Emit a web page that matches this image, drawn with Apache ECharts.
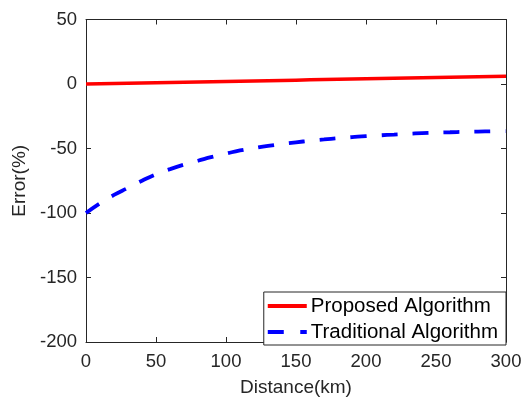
<!DOCTYPE html>
<html>
<head>
<meta charset="utf-8">
<script src="https://cdn.jsdelivr.net/npm/echarts@6/dist/echarts.min.js"></script>
<style>
  html, body { margin: 0; padding: 0; background: #fff; }
  #chart { width: 525px; height: 402px; }
</style>
</head>
<body>
<div id="chart"></div>
<script>
// distances read along the x axis (km)
var distance = [0, 10, 20, 30, 40, 50, 60, 70, 80, 90, 100, 110, 120, 130, 140, 150,
  160, 170, 180, 190, 200, 210, 220, 230, 240, 250, 260, 270, 280, 290, 300];
// error (%)
var proposed = [0, 0.2, 0.4, 0.6, 0.8, 1, 1.2, 1.4, 1.6, 1.8, 2, 2.2, 2.4, 2.6, 2.8, 3,
  3.2, 3.4, 3.6, 3.8, 4, 4.2, 4.4, 4.6, 4.8, 5, 5.2, 5.4, 5.6, 5.8, 6];
var traditional = [-100, -92.5, -86, -80.5, -75, -70, -66, -62.5, -59.5, -56.5, -54,
  -51.5, -49.7, -48, -46.5, -45.2, -44, -43, -42, -41.2, -40.4, -39.8, -39.2, -38.6,
  -38.1, -37.7, -37.4, -37.1, -36.9, -36.7, -36.6];
var seriesNames = ['Proposed Algorithm', 'Traditional Algorithm'];

function pairs(ys) {
  return distance.map(function (d, i) { return [d, ys[i]]; });
}

var axisColor = '#262626';
var font = 'Liberation Sans';

// legend samples: solid bar and "dash gap dash" bar, 39 x 4
var solidIcon = 'path://M0,0H39V4H0Z';
var dashIcon = 'path://M0,0H16V4H0Z M32.5,0H39V4H32.5Z';

// shared look for the four box sides
function side(extra) {
  var base = {
    type: 'value',
    axisLine: { show: true, onZero: false, lineStyle: { color: axisColor, width: 1 } },
    axisTick: { show: true, inside: true, length: 5, lineStyle: { color: axisColor, width: 1 } },
    axisLabel: { show: false },
    splitLine: { show: false }
  };
  return Object.assign(base, extra);
}

var chart = echarts.init(document.getElementById('chart'));

var option = {
  animation: false,
  grid: { left: 86, right: 19, top: 19.5, bottom: 57 },
  legend: {
    orient: 'vertical',
    right: 19,
    bottom: 57,
    padding: [3.5, 8, 2.5, 4],
    itemGap: 5,
    itemWidth: 39,
    itemHeight: 14,
    backgroundColor: '#fff',
    borderColor: axisColor,
    borderWidth: 1,
    borderRadius: 0,
    symbolKeepAspect: true,
    itemStyle: { borderWidth: 0 },
    textStyle: { fontFamily: font, fontSize: 20.5, color: '#000', padding: [0, 0, 0, -1] },
    data: [
      { name: seriesNames[0], icon: solidIcon },
      { name: seriesNames[1], icon: dashIcon }
    ]
  },
  xAxis: [
    side({
      min: 0, max: 300, interval: 50, position: 'bottom',
      name: 'Distance(km)', nameLocation: 'middle', nameGap: 36,
      nameTextStyle: { fontFamily: font, fontSize: 19, color: axisColor },
      axisLabel: { show: true, fontFamily: font, fontSize: 18.5, color: axisColor, margin: 10 }
    }),
    side({ min: 0, max: 300, interval: 50, position: 'top' })
  ],
  yAxis: [
    side({
      min: -200, max: 50, interval: 50, position: 'left',
      name: 'Error(%)', nameLocation: 'middle', nameGap: 56,
      nameTextStyle: { fontFamily: font, fontSize: 19, color: axisColor },
      axisLabel: { show: true, fontFamily: font, fontSize: 18.5, color: axisColor, margin: 9 }
    }),
    side({ min: -200, max: 50, interval: 50, position: 'right' })
  ],
  series: [
    {
      name: seriesNames[0],
      type: 'line',
      symbol: 'none',
      data: pairs(proposed),
      lineStyle: { color: '#ff0000', width: 3.5 },
      itemStyle: { color: '#ff0000' },
      z: 3
    },
    {
      name: seriesNames[1],
      type: 'line',
      symbol: 'none',
      smooth: true,
      data: pairs(traditional),
      lineStyle: { color: '#0000ff', width: 3.8, type: [16, 15], cap: 'butt' },
      itemStyle: { color: '#0000ff' },
      z: 2
    }
  ]
};

option && chart.setOption(option);
</script>
</body>
</html>
